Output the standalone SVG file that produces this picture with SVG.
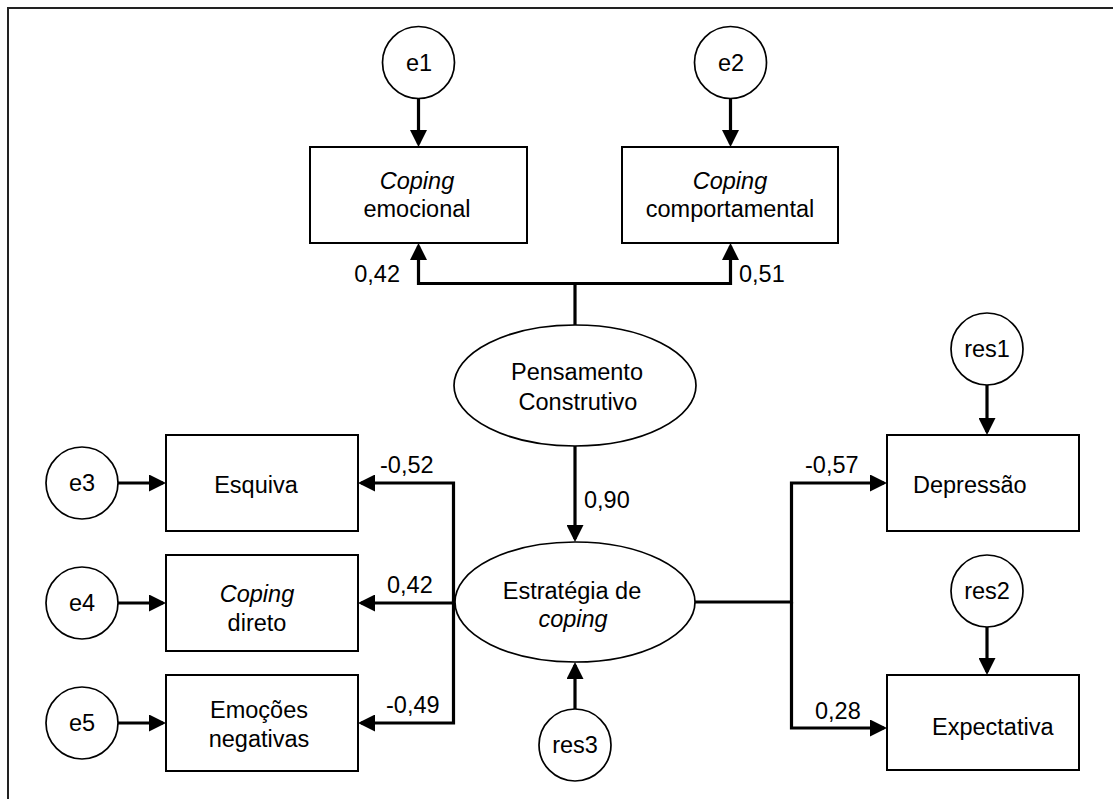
<svg xmlns="http://www.w3.org/2000/svg" width="1113" height="799" viewBox="0 0 1113 799">
<style>
text{font-family:"Liberation Sans",Arial,sans-serif;font-size:23.5px;fill:#000}
.c{text-anchor:middle}
.i{font-style:italic}
.box{fill:#fff;stroke:#000;stroke-width:2}
.circ{fill:#fff;stroke:#000;stroke-width:1.7}
.ell{fill:#fff;stroke:#000;stroke-width:1.7}
.ln{fill:none;stroke:#000;stroke-width:3.2}
.ar{fill:none;stroke:#000;stroke-width:3.2;marker-end:url(#ah)}
.frame{fill:none;stroke:#222;stroke-width:2}
</style>
<defs>
<marker id="ah" markerUnits="userSpaceOnUse" markerWidth="17" markerHeight="17" viewBox="0 0 17 17" refX="14" refY="8.5" orient="auto">
<path d="M0,0 L17,8.5 L0,17 z" fill="#000"/>
</marker>
</defs>
<rect width="1113" height="799" fill="#fff"/>
<path class="frame" d="M8,799 V8 H1113"/>

<g id="connectors">
<path class="ar" d="M418.5,98.5 V144"/>
<path class="ar" d="M730.5,98.5 V144"/>
<path class="ln" d="M575,325 V283.5"/>
<path class="ar" d="M575,283.5 H418.5 V246"/>
<path class="ar" d="M575,283.5 H730.5 V246"/>
<path class="ar" d="M575,446 V539"/>
<path class="ar" d="M575,709 V665"/>
<path class="ar" d="M455,602 H453.5 V483 H361"/>
<path class="ar" d="M455,603 H361"/>
<path class="ar" d="M455,602 H453.5 V723 H361"/>
<path class="ar" d="M118,483 H163"/>
<path class="ar" d="M118,603 H163"/>
<path class="ar" d="M118,723 H163"/>
<path class="ar" d="M695,602 H791.5 V483 H884"/>
<path class="ar" d="M791.5,602 V728 H884"/>
<path class="ar" d="M987,385 V432"/>
<path class="ar" d="M987,627 V672"/>
<text x="400" y="282" text-anchor="end">0,42</text>
<text x="739" y="282">0,51</text>
<text x="584" y="508">0,90</text>
<text x="380" y="473">-0,52</text>
<text x="387" y="593">0,42</text>
<text x="386" y="713">-0,49</text>
<text x="805" y="473">-0,57</text>
<text x="815" y="719">0,28</text>
</g>

<g id="e1"><circle class="circ" cx="418.5" cy="62.5" r="36"/><text class="c" x="419" y="71">e1</text></g>
<g id="e2"><circle class="circ" cx="730.5" cy="62.5" r="36"/><text class="c" x="731" y="71">e2</text></g>
<g id="coping-emocional"><rect class="box" x="310" y="147" width="217" height="96"/><text class="c i" x="417" y="189">Coping</text><text class="c" x="417" y="217">emocional</text></g>
<g id="coping-comportamental"><rect class="box" x="622" y="147" width="216" height="96"/><text class="c i" x="730" y="189">Coping</text><text class="c" x="730" y="217">comportamental</text></g>
<g id="pensamento"><ellipse class="ell" cx="575" cy="385.5" rx="121" ry="60.5"/><text class="c" x="577" y="380">Pensamento</text><text class="c" x="578" y="410">Construtivo</text></g>
<g id="estrategia"><ellipse class="ell" cx="575" cy="602" rx="120" ry="60"/><text class="c" x="572" y="599">Estratégia de</text><text class="c i" x="573" y="627">coping</text></g>
<g id="res3"><circle class="circ" cx="575" cy="745" r="36"/><text class="c" x="575" y="753">res3</text></g>
<g id="esquiva"><rect class="box" x="166" y="435" width="192" height="96"/><text class="c" x="256" y="493">Esquiva</text></g>
<g id="coping-direto"><rect class="box" x="166" y="555" width="192" height="96"/><text class="c i" x="257" y="602">Coping</text><text class="c" x="257" y="631">direto</text></g>
<g id="emocoes"><rect class="box" x="166" y="675" width="192" height="96"/><text class="c" x="259" y="718">Emoções</text><text class="c" x="259" y="747">negativas</text></g>
<g id="e3"><circle class="circ" cx="82" cy="483" r="36"/><text class="c" x="82" y="491">e3</text></g>
<g id="e4"><circle class="circ" cx="82" cy="603" r="36"/><text class="c" x="82" y="611">e4</text></g>
<g id="e5"><circle class="circ" cx="82" cy="723" r="36"/><text class="c" x="82" y="731">e5</text></g>
<g id="depressao"><rect class="box" x="887" y="435" width="192" height="96"/><text x="913" y="493">Depressão</text></g>
<g id="expectativa"><rect class="box" x="887" y="675" width="192" height="95"/><text x="932" y="735">Expectativa</text></g>
<g id="res1"><circle class="circ" cx="987" cy="349" r="36"/><text class="c" x="987" y="357">res1</text></g>
<g id="res2"><circle class="circ" cx="987" cy="591" r="36"/><text class="c" x="987" y="599">res2</text></g>
</svg>
